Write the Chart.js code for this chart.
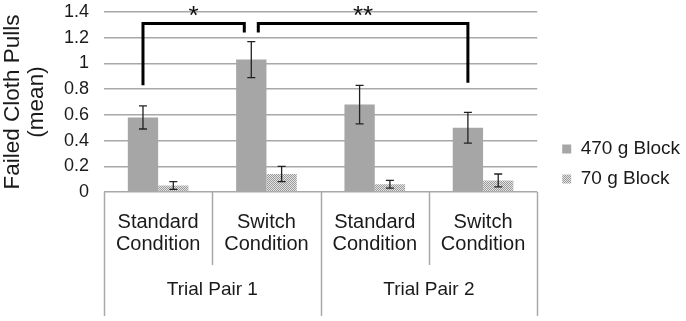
<!DOCTYPE html>
<html>
<head>
<meta charset="utf-8">
<script src="https://cdn.jsdelivr.net/npm/chart.js@4.4.1/dist/chart.umd.min.js"></script>
<style>
html, body { margin: 0; background: #fff; }
#wrap { width: 686px; height: 321px; }
</style>
</head>
<body>
<div id="wrap"><canvas id="failedPullsChart"></canvas></div>
<script>
// Data
const conditions = [['Standard', 'Condition'], ['Switch', 'Condition'], ['Standard', 'Condition'], ['Switch', 'Condition']];
const trialPairs = ['Trial Pair 1', 'Trial Pair 2'];
const heavyMean = [0.58, 1.03, 0.68, 0.50];
const heavyLow = [0.49, 0.89, 0.53, 0.38];
const heavyHigh = [0.67, 1.17, 0.83, 0.62];
const lightMean = [0.05, 0.14, 0.06, 0.09];
const lightLow = [0.02, 0.08, 0.03, 0.04];
const lightHigh = [0.08, 0.20, 0.09, 0.14];
const yMin = 0, yMax = 1.4, yStep = 0.2;

// significance brackets (between 470 g bars)
const sigLabels = ['*', '**'];
const sigFrom = [0, 1];
const sigTo = [1, 3];
const sigTop = [1.31, 1.31];
const sigFromEnd = [0.83, 1.24];
const sigToEnd = [1.24, 0.85];

const gridColor = '#a8a8a8';
const textColor = '#1a1a1a';
const fontFamily = '"Liberation Sans", Arial, sans-serif';

function checkerPattern() {
    const c = document.createElement('canvas');
    c.width = 4; c.height = 4;
    const g = c.getContext('2d');
    g.fillStyle = '#e4e4e4';
    g.fillRect(0, 0, 4, 4);
    g.fillStyle = '#9a9a9a';
    for (let y = 0; y < 4; y++) {
        for (let x = 0; x < 4; x++) {
            if ((x + y) % 2 === 0) g.fillRect(x, y, 1, 1);
        }
    }
    return g.createPattern(c, 'repeat');
}

// error bars
const errorBars = {
    id: 'errorBars',
    afterDatasetsDraw(chart) {
        const ctx = chart.ctx;
        const ys = chart.scales.y;
        ctx.save();
        ctx.strokeStyle = '#222';
        ctx.lineWidth = 1.3;
        chart.data.datasets.forEach((ds, di) => {
            const meta = chart.getDatasetMeta(di);
            meta.data.forEach((bar, i) => {
                const top = ys.getPixelForValue(ds.errHigh[i]);
                const bot = ys.getPixelForValue(ds.errLow[i]);
                ctx.beginPath();
                ctx.moveTo(bar.x, top); ctx.lineTo(bar.x, bot);
                ctx.moveTo(bar.x - 4, top); ctx.lineTo(bar.x + 4, top);
                ctx.moveTo(bar.x - 4, bot); ctx.lineTo(bar.x + 4, bot);
                ctx.stroke();
            });
        });
        ctx.restore();
    }
};

// significance brackets
const sigBrackets = {
    id: 'sigBrackets',
    afterDatasetsDraw(chart) {
        const ctx = chart.ctx;
        const ys = chart.scales.y;
        const bars = chart.getDatasetMeta(0).data;
        const gap = 7;
        ctx.save();
        ctx.strokeStyle = '#000';
        ctx.lineWidth = 3;
        sigLabels.forEach((lab, k) => {
            let x1 = bars[sigFrom[k]].x;
            let x2 = bars[sigTo[k]].x;
            if (sigTo.includes(sigFrom[k])) x1 += gap;
            if (sigFrom.includes(sigTo[k])) x2 -= gap;
            const yTop = ys.getPixelForValue(sigTop[k]);
            ctx.beginPath();
            ctx.moveTo(x1, ys.getPixelForValue(sigFromEnd[k]));
            ctx.lineTo(x1, yTop);
            ctx.lineTo(x2, yTop);
            ctx.lineTo(x2, ys.getPixelForValue(sigToEnd[k]));
            ctx.stroke();
            ctx.fillStyle = '#111';
            ctx.font = '26px ' + fontFamily;
            ctx.textAlign = 'center';
            ctx.textBaseline = 'alphabetic';
            ctx.fillText(lab, (x1 + x2) / 2, ys.getPixelForValue(yMax) + 12);
        });
        ctx.restore();
    }
};

// category dividers below the axis
const dividers = {
    id: 'dividers',
    afterDraw(chart) {
        const ctx = chart.ctx;
        const xs = chart.scales.x;
        const x2s = chart.scales.x2;
        ctx.save();
        ctx.strokeStyle = gridColor;
        ctx.lineWidth = 1.5;
        for (let i = 0; i <= conditions.length; i++) {
            const px = Math.round(xs.getPixelForValue(i - 0.5)) + 0.5;
            const full = i % (conditions.length / trialPairs.length) === 0;
            ctx.beginPath();
            ctx.moveTo(px, xs.top);
            ctx.lineTo(px, full ? x2s.bottom : xs.bottom);
            ctx.stroke();
        }
        ctx.restore();
    }
};

const ctx = document.getElementById('failedPullsChart');
new Chart(ctx, {
    type: 'bar',
    data: {
        labels: conditions,
        datasets: [
            {
                label: '470 g Block',
                data: heavyMean,
                errLow: heavyLow,
                errHigh: heavyHigh,
                backgroundColor: '#a6a6a6',
                borderWidth: 0
            },
            {
                label: '70 g Block',
                data: lightMean,
                errLow: lightLow,
                errHigh: lightHigh,
                backgroundColor: checkerPattern(),
                borderWidth: 0
            }
        ]
    },
    options: {
        responsive: true,
        maintainAspectRatio: false,
        animation: false,
        categoryPercentage: 0.56,
        barPercentage: 1.0,
        layout: { padding: { top: 12, right: -4, bottom: 5, left: 0 } },
        plugins: {
            tooltip: { enabled: false },
            legend: {
                position: 'right',
                maxWidth: 200,
                labels: {
                    color: textColor,
                    font: { family: fontFamily, size: 19 },
                    boxWidth: 9,
                    boxHeight: 9,
                    padding: 11
                }
            }
        },
        scales: {
            y: {
                min: yMin,
                max: yMax,
                ticks: {
                    stepSize: yStep,
                    autoSkip: false,
                    color: textColor,
                    padding: 15,
                    font: { family: fontFamily, size: 18 },
                    callback: v => String(Math.round(v * 10) / 10)
                },
                grid: { color: gridColor, lineWidth: 1.5, drawTicks: false },
                border: { display: false },
                title: {
                    display: true,
                    text: ['Failed Cloth Pulls', '(mean)'],
                    color: textColor,
                    padding: 0,
                    font: { family: fontFamily, size: 22.5, lineHeight: 1.1 }
                },
                afterFit(scale) {
                    scale.width = 104;
                    scale.paddingTop = 0;
                    scale.paddingBottom = 0;
                }
            },
            // empty spacer between plot and legend
            gap: {
                type: 'linear',
                position: 'right',
                grid: { display: false, drawTicks: false },
                border: { display: false },
                ticks: { display: false },
                afterFit(scale) {
                    scale.width = 14;
                    scale.paddingTop = 0;
                    scale.paddingBottom = 0;
                }
            },
            x: {
                weight: 0,
                grid: { display: false, drawTicks: false },
                border: { display: false },
                ticks: {
                    color: textColor,
                    padding: 19,
                    maxRotation: 0,
                    autoSkip: false,
                    font: { family: fontFamily, size: 20, lineHeight: 1.1 }
                },
                afterFit(scale) { scale.height = 73; }
            },
            x2: {
                type: 'category',
                position: 'bottom',
                weight: 1,
                labels: trialPairs,
                offset: true,
                grid: { display: false, drawTicks: false },
                border: { display: false },
                ticks: {
                    color: textColor,
                    padding: 13,
                    maxRotation: 0,
                    autoSkip: false,
                    font: { family: fontFamily, size: 19 }
                },
                afterFit(scale) { scale.height = 51; }
            }
        }
    },
    plugins: [errorBars, sigBrackets, dividers]
});
</script>
</body>
</html>
